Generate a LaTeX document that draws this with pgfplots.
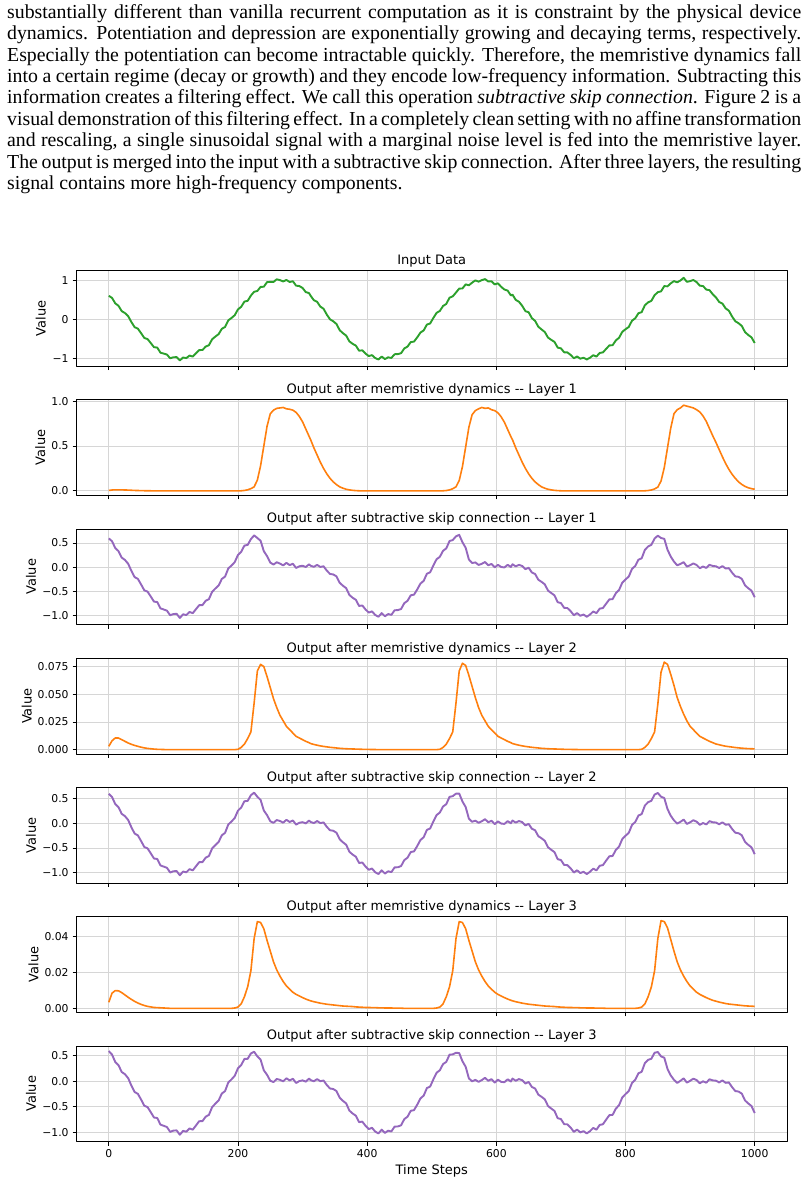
\documentclass[border=0pt]{standalone}
\usepackage{fontspec}
\setmainfont{DejaVu Sans}
\newfontfamily\serif{Liberation Serif}
\usepackage{pgfplots}
\usepackage{pgfplotstable}
\pgfplotsset{compat=1.18}
\definecolor{mgreen}{HTML}{2CA02C}
\definecolor{morange}{HTML}{FF7F0E}
\definecolor{mpurple}{HTML}{9467BD}
\definecolor{mgrid}{HTML}{D6D6D6}

\pgfplotstableread{
t in m1 s1 m2 s2 m3 s3
0 0.600 0.005 0.595 0.003 0.592 0.0034 0.589
5 0.547 0.010 0.537 0.008 0.529 0.0085 0.521
10 0.408 0.012 0.396 0.0105 0.386 0.0099 0.376
15 0.345 0.012 0.333 0.0105 0.323 0.0098 0.313
20 0.209 0.011 0.198 0.009 0.189 0.0088 0.180
25 0.160 0.010 0.150 0.0075 0.143 0.0075 0.136
30 0.080 0.009 0.071 0.006 0.065 0.0062 0.059
35 -0.070 0.007 -0.077 0.0048 -0.082 0.005 -0.087
40 -0.200 0.005 -0.205 0.0038 -0.209 0.0039 -0.213
45 -0.238 0.004 -0.242 0.003 -0.245 0.003 -0.248
50 -0.354 0.003 -0.357 0.0022 -0.359 0.0022 -0.361
55 -0.476 0.002 -0.478 0.0016 -0.480 0.0016 -0.482
60 -0.504 0.002 -0.506 0.0011 -0.507 0.0011 -0.508
65 -0.606 0.001 -0.607 0.0008 -0.608 0.0008 -0.609
70 -0.712 0.000 -0.712 0.0005 -0.712 0.0005 -0.713
75 -0.721 0.000 -0.721 0.0003 -0.721 0.0004 -0.722
80 -0.852 0.000 -0.852 0.0002 -0.852 0.0003 -0.852
85 -0.875 0.000 -0.875 0.0001 -0.875 0.0002 -0.875
90 -0.899 0.000 -0.899 0.0000 -0.899 0.0001 -0.899
95 -0.994 0.000 -0.994 0.0000 -0.994 0.0000 -0.994
100 -0.969 0.000 -0.969 0.0000 -0.969 0.0000 -0.969
105 -0.965 0.000 -0.965 0.0000 -0.965 0.0000 -0.965
110 -1.050 0.000 -1.050 0.0000 -1.050 0.0000 -1.050
115 -0.975 0.000 -0.975 0.0000 -0.975 0.0000 -0.975
120 -0.990 0.000 -0.990 0.0000 -0.990 0.0000 -0.990
125 -0.926 0.000 -0.926 0.0000 -0.926 0.0000 -0.926
130 -0.951 0.000 -0.951 0.0000 -0.951 0.0000 -0.951
135 -0.868 0.000 -0.868 0.0000 -0.868 0.0000 -0.868
140 -0.785 0.000 -0.785 0.0000 -0.785 0.0000 -0.785
145 -0.784 0.000 -0.784 0.0000 -0.784 0.0000 -0.784
150 -0.696 0.000 -0.696 0.0000 -0.696 0.0000 -0.696
155 -0.661 0.000 -0.661 0.0000 -0.661 0.0000 -0.661
160 -0.509 0.000 -0.509 0.0000 -0.509 0.0000 -0.509
165 -0.441 0.000 -0.441 0.0000 -0.441 0.0000 -0.441
170 -0.379 0.000 -0.379 0.0000 -0.379 0.0000 -0.379
175 -0.243 0.000 -0.243 0.0000 -0.243 0.0000 -0.243
180 -0.195 0.000 -0.195 0.0000 -0.195 0.0000 -0.195
185 -0.026 0.000 -0.026 0.0000 -0.026 0.0000 -0.026
190 0.035 0.000 0.035 0.0000 0.035 0.0000 0.035
195 0.105 0.000 0.105 0.0000 0.105 0.0002 0.105
200 0.254 0.000 0.254 0.0003 0.254 0.0007 0.253
205 0.320 0.001 0.319 0.002 0.317 0.0025 0.315
210 0.453 0.005 0.448 0.005 0.443 0.0065 0.437
215 0.472 0.012 0.460 0.010 0.450 0.012 0.438
220 0.606 0.025 0.581 0.016 0.565 0.021 0.544
225 0.703 0.045 0.658 0.042 0.616 0.039 0.577
230 0.724 0.120 0.604 0.071 0.533 0.0485 0.485
235 0.827 0.280 0.547 0.077 0.470 0.048 0.422
240 0.832 0.500 0.332 0.075 0.257 0.0445 0.213
245 0.949 0.720 0.229 0.066 0.163 0.038 0.125
250 0.956 0.860 0.096 0.056 0.040 0.032 0.008
255 0.954 0.900 0.054 0.046 0.008 0.026 -0.018
260 1.022 0.920 0.102 0.038 0.064 0.0215 0.043
265 1.000 0.925 0.075 0.031 0.044 0.018 0.026
270 0.967 0.930 0.037 0.026 0.011 0.015 -0.004
275 1.005 0.915 0.090 0.021 0.069 0.0125 0.057
280 0.953 0.910 0.043 0.018 0.025 0.0107 0.014
285 0.971 0.900 0.071 0.015 0.056 0.009 0.047
290 0.859 0.875 -0.016 0.012 -0.028 0.0078 -0.036
295 0.849 0.830 0.019 0.0105 0.009 0.0069 0.002
300 0.800 0.770 0.030 0.009 0.021 0.006 0.015
305 0.694 0.690 0.004 0.0075 -0.004 0.0052 -0.009
310 0.670 0.610 0.060 0.0063 0.054 0.0045 0.050
312.5 0.600 0.570 0.030 0.0055 0.025 0.0042 0.021
317.5 0.487 0.480 0.007 0.0047 0.002 0.0037 -0.002
322.5 0.448 0.400 0.048 0.0040 0.044 0.0033 0.041
327.5 0.325 0.320 0.005 0.0034 0.002 0.0029 -0.001
332.5 0.269 0.250 0.019 0.0029 0.016 0.0026 0.013
337.5 0.120 0.190 -0.070 0.0025 -0.073 0.0023 -0.075
342.5 0.000 0.140 -0.140 0.0021 -0.142 0.0021 -0.144
347.5 -0.050 0.100 -0.150 0.0018 -0.152 0.0019 -0.154
352.5 -0.120 0.070 -0.190 0.0015 -0.192 0.0017 -0.194
357.5 -0.278 0.045 -0.323 0.0012 -0.324 0.0015 -0.326
362.5 -0.354 0.030 -0.384 0.0010 -0.385 0.0013 -0.386
367.5 -0.416 0.018 -0.434 0.0008 -0.435 0.0012 -0.436
372.5 -0.564 0.011 -0.575 0.0007 -0.576 0.0011 -0.577
377.5 -0.626 0.006 -0.632 0.0006 -0.633 0.0010 -0.634
382.5 -0.672 0.003 -0.675 0.0005 -0.676 0.0008 -0.677
387.5 -0.801 0.001 -0.802 0.0004 -0.802 0.0007 -0.803
392.5 -0.792 0.000 -0.792 0.0003 -0.792 0.0006 -0.793
397.5 -0.875 0.000 -0.875 0.0002 -0.875 0.0005 -0.876
402.5 -0.939 0.000 -0.939 0.0002 -0.939 0.0005 -0.940
407.5 -0.914 0.000 -0.914 0.0001 -0.914 0.0004 -0.914
412.5 -0.989 0.000 -0.989 0.0001 -0.989 0.0004 -0.989
417.5 -1.025 0.000 -1.025 0.0000 -1.025 0.0003 -1.025
422.5 -0.950 0.000 -0.950 0.0000 -0.950 0.0003 -0.950
427.5 -1.015 0.000 -1.015 0.0000 -1.015 0.0002 -1.015
432.5 -0.970 0.000 -0.970 0.0000 -0.970 0.0002 -0.970
437.5 -0.986 0.000 -0.986 0.0000 -0.986 0.0002 -0.986
442.5 -0.891 0.000 -0.891 0.0000 -0.891 0.0001 -0.891
447.5 -0.888 0.000 -0.888 0.0000 -0.888 0.0001 -0.888
452.5 -0.865 0.000 -0.865 0.0000 -0.865 0.0001 -0.865
457.5 -0.744 0.000 -0.744 0.0000 -0.744 0.0000 -0.744
462.5 -0.696 0.000 -0.696 0.0000 -0.696 0.0000 -0.696
467.5 -0.581 0.000 -0.581 0.0000 -0.581 0.0000 -0.581
472.5 -0.569 0.000 -0.569 0.0000 -0.569 0.0000 -0.569
477.5 -0.461 0.000 -0.461 0.0000 -0.461 0.0000 -0.461
482.5 -0.339 0.000 -0.339 0.0000 -0.339 0.0000 -0.339
487.5 -0.283 0.000 -0.283 0.0000 -0.283 0.0000 -0.283
492.5 -0.135 0.000 -0.135 0.0000 -0.135 0.0000 -0.135
497.5 -0.106 0.000 -0.106 0.0000 -0.106 0.0000 -0.106
502.5 0.035 0.000 0.035 0.0000 0.035 0.0000 0.035
507.5 0.165 0.000 0.165 0.0000 0.165 0.0002 0.165
512.5 0.214 0.000 0.214 0.0003 0.214 0.0007 0.213
517.5 0.340 0.001 0.339 0.002 0.337 0.0025 0.335
522.5 0.393 0.004 0.389 0.005 0.384 0.0065 0.378
527.5 0.552 0.011 0.541 0.010 0.531 0.012 0.519
532.5 0.586 0.024 0.562 0.016 0.546 0.021 0.525
537.5 0.683 0.045 0.638 0.042 0.596 0.039 0.557
542.5 0.784 0.115 0.669 0.071 0.598 0.0485 0.550
547.5 0.787 0.270 0.517 0.078 0.439 0.048 0.391
552.5 0.892 0.490 0.402 0.076 0.326 0.0445 0.282
557.5 0.869 0.710 0.159 0.067 0.092 0.038 0.054
562.5 0.936 0.850 0.086 0.057 0.029 0.032 -0.003
567.5 0.994 0.895 0.099 0.047 0.052 0.026 0.026
572.5 0.962 0.915 0.047 0.038 0.009 0.0215 -0.013
577.5 1.000 0.930 0.070 0.031 0.039 0.018 0.021
582.5 1.027 0.920 0.107 0.026 0.081 0.015 0.066
587.5 0.965 0.925 0.040 0.021 0.019 0.0125 0.007
592.5 0.973 0.905 0.068 0.018 0.050 0.0107 0.039
597.5 0.891 0.895 -0.004 0.015 -0.019 0.009 -0.028
602.5 0.919 0.870 0.049 0.012 0.037 0.0078 0.029
607.5 0.829 0.825 0.004 0.0105 -0.007 0.0069 -0.014
612.5 0.760 0.765 -0.005 0.009 -0.014 0.006 -0.020
617.5 0.734 0.685 0.049 0.0075 0.042 0.0052 0.037
622.5 0.610 0.605 0.005 0.0063 -0.001 0.0045 -0.006
625 0.630 0.570 0.060 0.0055 0.055 0.0042 0.051
630 0.497 0.480 0.017 0.0047 0.012 0.0037 0.008
635 0.448 0.400 0.048 0.0040 0.044 0.0033 0.041
640 0.345 0.320 0.025 0.0034 0.022 0.0029 0.019
645 0.209 0.250 -0.041 0.0029 -0.044 0.0026 -0.047
650 0.180 0.190 -0.010 0.0025 -0.013 0.0023 -0.015
655 0.030 0.140 -0.110 0.0021 -0.112 0.0021 -0.114
660 -0.040 0.100 -0.140 0.0018 -0.142 0.0019 -0.144
665 -0.190 0.070 -0.260 0.0015 -0.262 0.0017 -0.264
670 -0.258 0.045 -0.303 0.0012 -0.304 0.0015 -0.306
675 -0.324 0.030 -0.354 0.0010 -0.355 0.0013 -0.356
680 -0.466 0.018 -0.484 0.0008 -0.485 0.0012 -0.486
685 -0.524 0.011 -0.535 0.0007 -0.536 0.0011 -0.537
690 -0.576 0.006 -0.582 0.0006 -0.583 0.0010 -0.584
695 -0.722 0.003 -0.725 0.0005 -0.726 0.0008 -0.727
700 -0.741 0.001 -0.742 0.0004 -0.742 0.0007 -0.743
705 -0.842 0.000 -0.842 0.0003 -0.842 0.0006 -0.843
710 -0.845 0.000 -0.845 0.0002 -0.845 0.0005 -0.846
715 -0.909 0.000 -0.909 0.0002 -0.909 0.0005 -0.910
720 -0.994 0.000 -0.994 0.0001 -0.994 0.0004 -0.994
725 -0.949 0.000 -0.949 0.0001 -0.949 0.0004 -0.949
730 -1.005 0.000 -1.005 0.0000 -1.005 0.0003 -1.005
735 -0.980 0.000 -0.980 0.0000 -0.980 0.0003 -0.980
740 -1.025 0.000 -1.025 0.0000 -1.025 0.0002 -1.025
745 -0.980 0.000 -0.980 0.0000 -0.980 0.0002 -0.980
750 -0.916 0.000 -0.916 0.0000 -0.916 0.0002 -0.916
755 -0.951 0.000 -0.951 0.0000 -0.951 0.0001 -0.951
760 -0.858 0.000 -0.858 0.0000 -0.858 0.0001 -0.858
765 -0.845 0.000 -0.845 0.0000 -0.845 0.0001 -0.845
770 -0.754 0.000 -0.754 0.0000 -0.754 0.0000 -0.754
775 -0.666 0.000 -0.666 0.0000 -0.666 0.0000 -0.666
780 -0.661 0.000 -0.661 0.0000 -0.661 0.0000 -0.661
785 -0.539 0.000 -0.539 0.0000 -0.539 0.0000 -0.539
790 -0.471 0.000 -0.471 0.0000 -0.471 0.0000 -0.471
795 -0.319 0.000 -0.319 0.0000 -0.319 0.0000 -0.319
800 -0.253 0.000 -0.253 0.0000 -0.253 0.0000 -0.253
805 -0.195 0.000 -0.195 0.0000 -0.195 0.0000 -0.195
810 -0.036 0.000 -0.036 0.0000 -0.036 0.0000 -0.036
815 0.025 0.000 0.025 0.0000 0.025 0.0000 0.025
820 0.155 0.000 0.155 0.0000 0.155 0.0002 0.155
825 0.184 0.000 0.184 0.0003 0.184 0.0007 0.183
830 0.360 0.001 0.359 0.002 0.357 0.0025 0.355
835 0.433 0.004 0.429 0.005 0.424 0.0065 0.418
840 0.472 0.010 0.462 0.010 0.452 0.012 0.440
845 0.616 0.022 0.594 0.016 0.578 0.021 0.557
850 0.693 0.042 0.651 0.041 0.610 0.039 0.571
855 0.714 0.110 0.604 0.070 0.534 0.049 0.485
860 0.847 0.260 0.587 0.079 0.508 0.0485 0.460
865 0.842 0.480 0.362 0.077 0.285 0.045 0.240
870 0.919 0.700 0.219 0.068 0.151 0.0385 0.113
875 0.976 0.860 0.116 0.058 0.058 0.032 0.026
880 0.944 0.905 0.039 0.047 -0.008 0.026 -0.034
885 0.992 0.925 0.067 0.039 0.028 0.0215 0.007
890 1.060 0.955 0.105 0.032 0.073 0.018 0.055
895 0.957 0.945 0.012 0.026 -0.014 0.015 -0.029
900 0.975 0.935 0.040 0.021 0.019 0.0125 0.007
905 1.003 0.925 0.078 0.018 0.060 0.0107 0.049
910 0.951 0.905 0.046 0.015 0.031 0.009 0.022
915 0.859 0.880 -0.021 0.012 -0.033 0.0078 -0.041
920 0.849 0.835 0.014 0.0105 0.004 0.0069 -0.003
925 0.760 0.775 -0.015 0.009 -0.024 0.006 -0.030
930 0.744 0.695 0.049 0.0075 0.042 0.0052 0.037
935 0.640 0.615 0.025 0.0063 0.019 0.0045 0.015
940 0.559 0.540 0.019 0.0051 0.014 0.0040 0.010
945 0.443 0.460 -0.017 0.0044 -0.021 0.0035 -0.025
950 0.402 0.380 0.022 0.0037 0.018 0.0031 0.015
955 0.278 0.305 -0.027 0.0031 -0.030 0.0027 -0.033
960 0.220 0.240 -0.020 0.0027 -0.023 0.0024 -0.025
965 0.071 0.185 -0.114 0.0023 -0.116 0.0022 -0.118
970 -0.050 0.140 -0.190 0.0019 -0.192 0.0020 -0.194
975 -0.100 0.100 -0.200 0.0016 -0.202 0.0018 -0.204
980 -0.169 0.072 -0.241 0.0013 -0.242 0.0016 -0.244
985 -0.326 0.050 -0.376 0.0011 -0.377 0.0014 -0.378
990 -0.400 0.035 -0.435 0.0009 -0.436 0.0013 -0.437
995 -0.460 0.025 -0.485 0.0008 -0.486 0.0012 -0.487
1000 -0.605 0.018 -0.623 0.0007 -0.624 0.0011 -0.625
}\data

\pgfplotsset{
  panel/.style={
    scale only axis, width=710.5pt, height=95.7pt,
    anchor=north west,
    xmin=-50, xmax=1050,
    xtick={0,200,400,600,800,1000},
    xticklabels={},
    scaled y ticks=false, scaled x ticks=false,
    grid=major,
    major grid style={color=mgrid, line width=0.85pt},
    axis line style={line width=0.85pt, black},
    tick align=outside,
    major tick length=3.8pt,
    every tick/.style={line width=0.85pt, black},
    xtick pos=bottom, ytick pos=left,
    tick label style={font=\fontsize{10.8pt}{13pt}\selectfont},
    yticklabel style={anchor=east, inner sep=0pt, xshift=-3.9pt},
    xticklabel style={anchor=north, inner sep=0pt, yshift=-3.9pt},
    every axis title/.style={at={(0.5,1)}, anchor=base, yshift=6.2pt, font=\fontsize{13pt}{15pt}\selectfont},
    every axis y label/.style={rotate=90, anchor=base, font=\fontsize{13pt}{15pt}\selectfont},
    every axis x label/.style={at={(axis description cs:0.5,-0.343)}, anchor=base, font=\fontsize{13pt}{15pt}\selectfont},
    ylabel={Value},
    line join=round,
  },
}

\begin{document}
\begin{tikzpicture}
\useasboundingbox (0,0) rectangle (808pt,-1184pt);
\node[anchor=base west, inner sep=0pt] at (7pt,-18.3pt) {\parbox[t]{794pt}{\serif\fontsize{19.8pt}{21.4pt}\selectfont\noindent
substantially different than vanilla recurrent computation as it is constraint by the physical device\linebreak
dynamics. Potentiation and depression are exponentially growing and decaying terms, respectively.\linebreak
Especially the potentiation can become intractable quickly. Therefore, the memristive dynamics fall\linebreak
into a certain regime (decay or growth) and they encode low-frequency information. Subtracting this\linebreak
information creates a filtering effect. We call this operation \textit{subtractive skip connection}. Figure 2 is a\linebreak
visual demonstration of this filtering effect. In a completely clean setting with no affine transformation\linebreak
and rescaling, a single sinusoidal signal with a marginal noise level is fed into the memristive layer.\linebreak
The output is merged into the input with a subtractive skip connection. After three layers, the resulting\linebreak
signal contains more high-frequency components.}};

\begin{axis}[panel, at={(76.5pt,-270.5pt)}, title={Input Data},
  ymin=-1.197, ymax=1.246, ytick={-1,0,1}, yticklabels={−1,0,1},
  ylabel style={at={(axis description cs:-0.0434,0.5)}}]
\addplot[mgreen, line width=1.9pt] table[x=t,y=in]{\data};
\end{axis}

\begin{axis}[panel, at={(76.5pt,-399.75pt)}, title={Output after memristive dynamics -{}- Layer 1},
  ymin=-0.051, ymax=1.016, ytick={0,0.5,1}, yticklabels={0.0,0.5,1.0},
  ylabel style={at={(axis description cs:-0.0443,0.5)}}]
\addplot[morange, line width=1.6pt] table[x=t,y=m1]{\data};
\end{axis}

\begin{axis}[panel, at={(76.5pt,-529pt)}, title={Output after subtractive skip connection -{}- Layer 1},
  ymin=-1.19, ymax=0.79, ytick={-1,-0.5,0,0.5}, yticklabels={−1.0,−0.5,0.0,0.5},
  ylabel style={at={(axis description cs:-0.0572,0.5)}}]
\addplot[mpurple, line width=1.9pt] table[x=t,y=s1]{\data};
\end{axis}

\begin{axis}[panel, at={(76.5pt,-658.25pt)}, title={Output after memristive dynamics -{}- Layer 2},
  ymin=-0.0039, ymax=0.0825, ytick={0,0.025,0.05,0.075}, yticklabels={0.000,0.025,0.050,0.075},
  ylabel style={at={(axis description cs:-0.0632,0.5)}}]
\addplot[morange, line width=1.6pt] table[x=t,y=m2]{\data};
\end{axis}

\begin{axis}[panel, at={(76.5pt,-787.5pt)}, title={Output after subtractive skip connection -{}- Layer 2},
  ymin=-1.21, ymax=0.72, ytick={-1,-0.5,0,0.5}, yticklabels={−1.0,−0.5,0.0,0.5},
  ylabel style={at={(axis description cs:-0.0572,0.5)}}]
\addplot[mpurple, line width=1.9pt] table[x=t,y=s2]{\data};
\end{axis}

\begin{axis}[panel, at={(76.5pt,-916.75pt)}, title={Output after memristive dynamics -{}- Layer 3},
  ymin=-0.0023, ymax=0.0512, ytick={0,0.02,0.04}, yticklabels={0.00,0.02,0.04},
  ylabel style={at={(axis description cs:-0.0538,0.5)}}]
\addplot[morange, line width=1.6pt] table[x=t,y=m3]{\data};
\end{axis}

\begin{axis}[panel, at={(76.5pt,-1046pt)}, title={Output after subtractive skip connection -{}- Layer 3},
  ymin=-1.187, ymax=0.689, ytick={-1,-0.5,0,0.5}, yticklabels={−1.0,−0.5,0.0,0.5},
  xticklabels={0,200,400,600,800,1000}, xlabel={Time Steps},
  ylabel style={at={(axis description cs:-0.0572,0.5)}}]
\addplot[mpurple, line width=1.9pt] table[x=t,y=s3]{\data};
\end{axis}
\end{tikzpicture}
\end{document}
